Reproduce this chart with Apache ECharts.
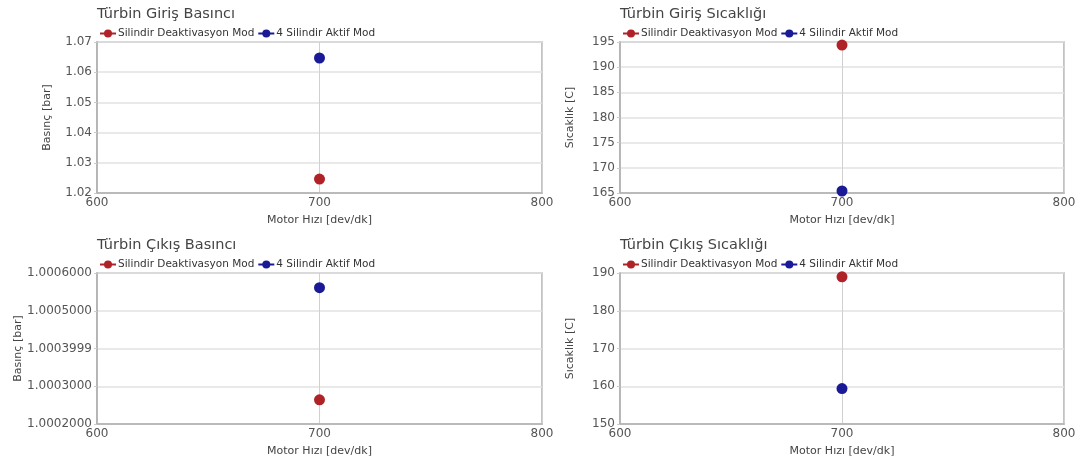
<!DOCTYPE html>
<html><head><meta charset="utf-8">
<script src="https://cdn.jsdelivr.net/npm/echarts@6/dist/echarts.min.js"></script>
<style>html,body{margin:0;padding:0;background:#fff}#c{width:1081px;height:468px}</style>
</head><body><div id="c"></div>
<script>
const titles = ['Türbin Giriş Basıncı','Türbin Giriş Sıcaklığı','Türbin Çıkış Basıncı','Türbin Çıkış Sıcaklığı'];
const seriesNames = ['Silindir Deaktivasyon Mod','4 Silindir Aktif Mod'];
const xValues = [700];
const girisBasinci_deakt = [1.0246];
const girisBasinci_aktif = [1.0647];
const girisSicakligi_deakt = [194.4];
const girisSicakligi_aktif = [165.4];
const cikisBasinci_deakt = [1.000264];
const cikisBasinci_aktif = [1.000561];
const cikisSicakligi_deakt = [189.0];
const cikisSicakligi_aktif = [159.4];
const yNames = ['Basınç [bar]','Sıcaklık [C]','Basınç [bar]','Sıcaklık [C]'];
const xName = 'Motor Hızı [dev/dk]';
const cikisBasinciTickLabels = ['1.0002000','1.0003000','1.0003999','1.0005000','1.0006000'];

const F = 'DejaVu Sans, Verdana, sans-serif';
const colors = ['#ae2228','#1a1a96'];
const grids = [
  {left:97, top:42, width:445, height:151},
  {left:620, top:42, width:444, height:151},
  {left:97, top:273, width:445, height:151},
  {left:620, top:273, width:444, height:151}
];
const nameGaps = [44, 44, 73, 44];
const yRanges = [
  {min:1.02, max:1.07, interval:0.01},
  {min:165, max:195, interval:5},
  {min:1.0002, max:1.0006, interval:0.0001},
  {min:150, max:190, interval:10}
];
const dataSets = [
  [girisBasinci_deakt, girisBasinci_aktif],
  [girisSicakligi_deakt, girisSicakligi_aktif],
  [cikisBasinci_deakt, cikisBasinci_aktif],
  [cikisSicakligi_deakt, cikisSicakligi_aktif]
];
const option = {
  animation:false,
  backgroundColor:'#fff',
  title: grids.map((g,i)=>({text:titles[i], left:g.left, top:g.top-35, padding:0,
    textStyle:{fontFamily:F,fontSize:14.5,fontWeight:'normal',color:'#444'}})),
  legend: grids.map((g,i)=>({left:g.left+2, top:g.top-14, itemWidth:16, itemHeight:10, itemGap:3,
    padding:0, data:seriesNames, textStyle:{fontFamily:F,fontSize:10.5,color:'#333',padding:[0,0,0,-3]}})),
  grid: grids.map(g=>Object.assign({show:true,borderColor:'#b0b0b0',borderWidth:1.5,backgroundColor:'#fff'},g)),
  xAxis: grids.map((g,i)=>({gridIndex:i, type:'value', min:600, max:800, interval:100,
    name:xName, nameLocation:'middle', nameGap:22,
    nameTextStyle:{fontFamily:F,fontSize:11,color:'#444'},
    axisLine:{lineStyle:{color:'#b0b0b0',width:1.5}}, axisTick:{show:false},
    axisLabel:{fontFamily:F,fontSize:12,color:'#555',margin:4},
    splitLine:{show:true,lineStyle:{color:'#d0d0d0',width:1}}})),
  yAxis: grids.map((g,i)=>({gridIndex:i, type:'value', min:yRanges[i].min, max:yRanges[i].max, interval:yRanges[i].interval,
    name:yNames[i], nameLocation:'middle', nameGap:nameGaps[i],
    nameTextStyle:{fontFamily:F,fontSize:11,color:'#444'},
    axisLine:{show:true,lineStyle:{color:'#b0b0b0',width:1.5}},
    axisTick:{show:true,length:3,lineStyle:{color:'#ccc'}},
    axisLabel:{fontFamily:F,fontSize:12,color:'#555',margin:5,
      formatter: i===2 ? (v=>cikisBasinciTickLabels[Math.round((v-yRanges[2].min)/yRanges[2].interval)]) : null},
    splitLine:{show:true,lineStyle:{color:'#e2e2e2',width:1.5}}})),
  series: []
};
dataSets.forEach((pair,i)=>{
  pair.forEach((arr,k)=>{
    option.series.push({type:'line', name:seriesNames[k], xAxisIndex:i, yAxisIndex:i,
      symbol:'circle', symbolSize:11, color:colors[k],
      itemStyle:{color:colors[k]}, lineStyle:{color:colors[k],width:2},
      data: xValues.map((x,j)=>[x,arr[j]])});
  });
});
const ch = echarts.init(document.getElementById('c'));
ch.setOption(option);
</script></body></html>
